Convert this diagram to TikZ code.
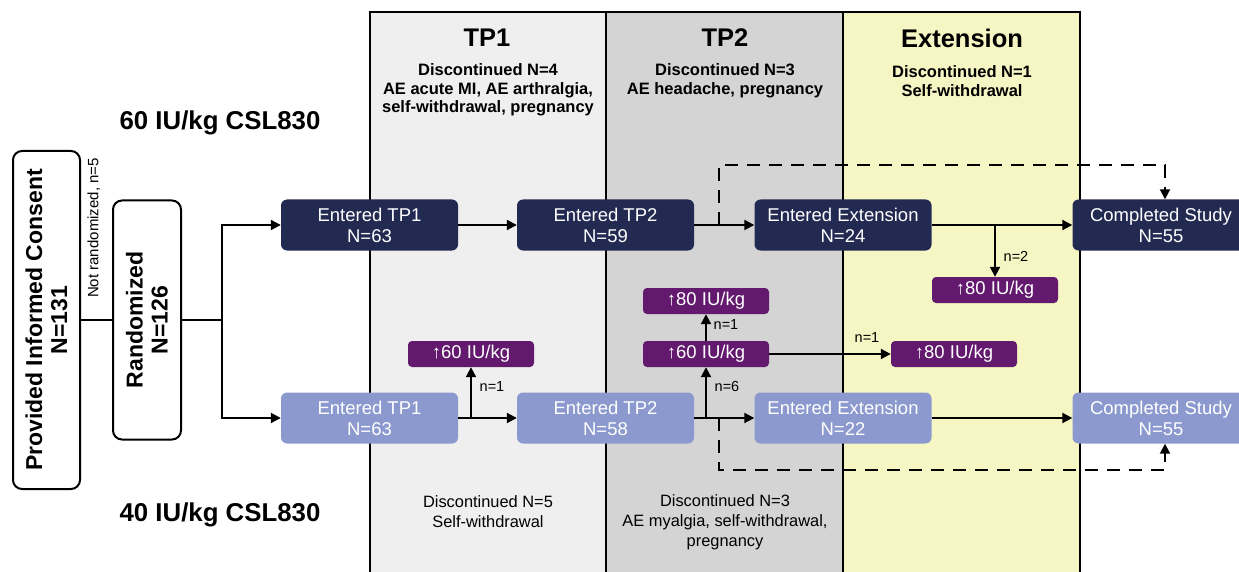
\documentclass[tikz,border=0pt]{standalone}
\usepackage{fontspec}
\setmainfont{Liberation Sans}
\usetikzlibrary{arrows.meta}
\definecolor{navy}{RGB}{34,42,82}
\definecolor{lblue}{RGB}{139,153,206}
\definecolor{purp}{RGB}{98,25,110}
\definecolor{tpone}{RGB}{239,239,239}
\definecolor{tptwo}{RGB}{212,212,212}
\definecolor{extc}{RGB}{246,246,197}
\tikzset{
  dk/.style={fill=navy, rounded corners=6pt, minimum width=177pt, minimum height=51pt, text=white, font=\fontsize{18.5}{21}\selectfont, align=center, inner sep=0pt},
  lt/.style={dk, fill=lblue},
  pp/.style={fill=purp, rounded corners=4pt, minimum width=126pt, minimum height=26pt, text=white, font=\fontsize{18.5}{20}\selectfont, inner sep=0pt},
  arr/.style={-{Triangle[length=10pt,width=10pt]}, line width=2pt},
  ln/.style={line width=2pt},
  dsh/.style={line width=2pt, dash pattern=on 13pt off 9pt},
  ttl/.style={font=\bfseries\fontsize{25.5}{28}\selectfont},
  disc/.style={font=\bfseries\fontsize{16.5}{18.7}\selectfont, align=center},
  discb/.style={font=\fontsize{16.4}{20}\selectfont, align=center},
  lab/.style={font=\fontsize{14.5}{17}\selectfont},
  grp/.style={font=\bfseries\fontsize{25.8}{28}\selectfont},
  vbox/.style={draw, line width=2pt, rounded corners=9pt, fill=white, rotate=90, align=center, font=\bfseries\fontsize{23}{25}\selectfont, inner sep=0pt}
}
\begin{document}
\begin{tikzpicture}[x=1pt,y=-1pt]
\useasboundingbox (0,0) rectangle (1239,572);
% panels
\fill[tpone] (370,12) rectangle (606,580);
\fill[tptwo] (606,12) rectangle (843,580);
\fill[extc] (843,12) rectangle (1080,580);
\draw[line width=2pt] (370,580) -- (370,12) -- (1080,12) -- (1080,580);
\draw[line width=2pt] (606,12) -- (606,580);
\draw[line width=2pt] (843,12) -- (843,580);
\node[ttl] (t1) at (487,38) {TP1};
\node[ttl] (t2) at (725,38) {TP2};
\node[ttl] (t3) at (962,38) {Extension};
\node[disc] (d1) at (488,90) {Discontinued N=4\\AE acute MI, AE arthralgia,\\self-withdrawal, pregnancy};
\node[disc] (d2) at (725,81) {Discontinued N=3\\AE headache, pregnancy};
\node[disc] (d3) at (962,81) {Discontinued N=1\\Self-withdrawal};
\node[discb] (d4) at (488,512) {Discontinued N=5\\Self-withdrawal};
\node[discb] (d5) at (725,522) {Discontinued N=3\\AE myalgia, self-withdrawal,\\pregnancy};
\node[grp] (g1) at (220,123) {60 IU/kg CSL830};
\node[grp] (g2) at (220,515) {40 IU/kg CSL830};
% left boxes
\node[vbox, minimum width=338pt, minimum height=67pt] (cons) at (46.5,320) {Provided Informed Consent\\N=131};
\node[vbox, minimum width=239pt, minimum height=68pt] (rand) at (147,320) {Randomized\\N=126};
\node[rotate=90, font=\fontsize{15}{17}\selectfont] (nr) at (94,228) {Not randomized, n=5};
% main boxes
\node[dk] (a1) at (369.5,225) {Entered TP1\\N=63};
\node[dk] (a2) at (605.5,225) {Entered TP2\\N=59};
\node[dk] (a3) at (843,225) {Entered Extension\\N=24};
\node[dk] (a4) at (1161,225) {Completed Study\\N=55};
\node[lt] (b1) at (369.5,418) {Entered TP1\\N=63};
\node[lt] (b2) at (605.5,418) {Entered TP2\\N=58};
\node[lt] (b3) at (843,418) {Entered Extension\\N=22};
\node[lt] (b4) at (1161,418) {Completed Study\\N=55};
% purple boxes
\node[pp] (p1) at (471,354) {↑60 IU/kg};
\node[pp] (p2) at (706,354) {↑60 IU/kg};
\node[pp] (p3) at (706,301) {↑80 IU/kg};
\node[pp] (p4) at (954,354) {↑80 IU/kg};
\node[pp] (p5) at (995,290) {↑80 IU/kg};
% connectors
\coordinate (sp) at (222,320);
\draw[ln] (cons.south) -- (rand.north);
\draw[ln] (rand.south) -- (sp);
\draw[arr] (sp) |- (a1.west);
\draw[arr] (sp) |- (b1.west);
\draw[arr] (a1) -- (a2);
\draw[arr] (a2) -- (a3);
\draw[arr] (a3) -- (a4);
\draw[arr] (a3.east -| p5.north) -- (p5.north);
\node[lab] (l1) at (1016,256) {n=2};
\draw[arr] (b1) -- (b2);
\draw[arr] (b2) -- (b3);
\draw[arr] (b3) -- (b4);
\draw[arr] (b1.east -| p1.south) -- (p1.south);
\node[lab] (l2) at (492,387) {n=1};
\draw[arr] (b2.east -| p2.south) -- (p2.south);
\node[lab] (l3) at (727,387) {n=6};
\draw[arr] (p2) -- (p3);
\node[lab] (l4) at (726,325) {n=1};
\draw[arr] (p2) -- (p4);
\node[lab] (l5) at (867,338) {n=1};
% dashed
\coordinate (dt) at (719,225);
\coordinate (db) at (719,418);
\draw[dsh, -{Triangle[length=10pt,width=10pt]}] (dt) -- ++(0,-60) -| ([xshift=4pt]a4.north);
\draw[dsh, -{Triangle[length=10pt,width=10pt]}] (db) -- ++(0,52) -| ([xshift=4pt]b4.south);
\end{tikzpicture}
\end{document}
